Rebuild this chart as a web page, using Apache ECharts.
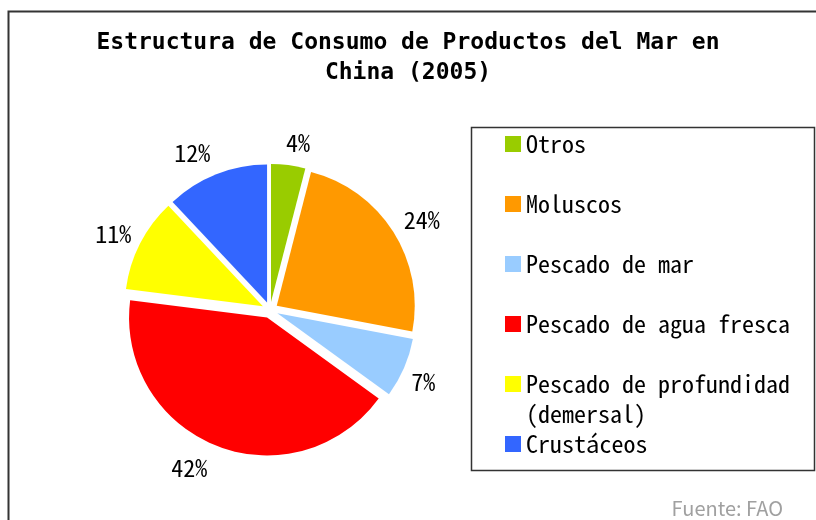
<!DOCTYPE html>
<html><head><meta charset="utf-8">
<script src="https://cdn.jsdelivr.net/npm/echarts@6/dist/echarts.min.js"></script>
<style>html,body{margin:0;padding:0;background:#fff}#c{width:816px;height:520px}</style>
</head><body><div id="c"></div>
<script>
// ---- data ----
const categories = ['Otros', 'Moluscos', 'Pescado de mar', 'Pescado de agua fresca', 'Pescado de profundidad (demersal)', 'Crustáceos'];
const shares = [4, 24, 7, 42, 11, 12];
const titleLines = ['Estructura de Consumo de Productos del Mar en', 'China (2005)'];
const sourceNote = 'Fuente: FAO';

// ---- style ----
const colors = ['#99CC00', '#FF9900', '#99CCFF', '#FF0000', '#FFFF00', '#3366FF'];
// small label nudges (px) to mimic the spreadsheet's label placement
const labelNudgeX = [-7, -10, -15, 1, 13, 4];
const labelNudgeY = [0, 0, 5, 2, 0, -1];
const MONO = '"DejaVu Sans Mono", monospace';
const GOTHIC = '"Noto Sans Mono CJK JP", "DejaVu Sans Mono", monospace';

const legendText = {
  fontFamily: GOTHIC, fontSize: 24, color: '#000', lineHeight: 30,
  rich: {
    a: {fontFamily: GOTHIC, fontSize: 24, color: '#000', lineHeight: 30},
    b: {fontFamily: GOTHIC, fontSize: 24, color: '#000', lineHeight: 0, padding: [30, 0, 0, 0]}
  }
};
function legendFormatter(name) {
  const k = name.indexOf(' (');
  return k > 0 ? '{a|' + name.slice(0, k) + '}\n{b|' + name.slice(k + 1) + '}' : name;
}
const legendCommon = {
  orient: 'vertical', left: 500,
  icon: 'rect', itemWidth: 16, itemHeight: 16, itemGap: 30,
  selectedMode: false,
  formatter: legendFormatter,
  textStyle: legendText
};

const chart = echarts.init(document.getElementById('c'), null, {renderer: 'canvas'});
chart.setOption({
  animation: false,
  backgroundColor: '#fff',
  color: colors,
  title: {
    text: titleLines.join('\n'),
    left: 'center', top: 28, padding: 0,
    textStyle: {fontFamily: MONO, fontSize: 23, fontWeight: 'bold', color: '#000', lineHeight: 30}
  },
  legend: [
    Object.assign({top: 124, data: categories.slice(0, 5)}, legendCommon),
    Object.assign({top: 424, data: categories.slice(5)}, legendCommon)
  ],
  graphic: [
    {type: 'rect', silent: true, shape: {x: 8.5, y: 11.5, width: 900, height: 600},
     style: {fill: 'none', stroke: '#333', lineWidth: 2}},
    {type: 'rect', silent: true, shape: {x: 471.5, y: 127.5, width: 343, height: 343},
     style: {fill: 'none', stroke: '#333', lineWidth: 1.5}},
    {type: 'text', silent: true, x: 783, y: 508,
     style: {text: sourceNote, fill: '#a0a0a0', font: '20px "Noto Sans CJK JP", sans-serif', textAlign: 'right', textVerticalAlign: 'middle'}}
  ],
  series: [{
    type: 'pie',
    center: [270, 310],
    radius: 138,
    startAngle: 90,
    clockwise: true,
    selectedMode: 'multiple',
    selectedOffset: 8,
    avoidLabelOverlap: false,
    data: categories.map((n, i) => ({name: n, value: shares[i], selected: true})),
    itemStyle: {borderWidth: 0},
    label: {show: true, position: 'outside', formatter: '{d}%', fontFamily: GOTHIC, fontSize: 24, color: '#000', distanceToLabelLine: 2},
    labelLine: {show: false, length: 22, length2: 0},
    labelLayout: function (p) { return {dx: labelNudgeX[p.dataIndex], dy: labelNudgeY[p.dataIndex]}; },
    emphasis: {disabled: true},
    select: {itemStyle: {borderWidth: 0}}
  }]
});
</script></body></html>
